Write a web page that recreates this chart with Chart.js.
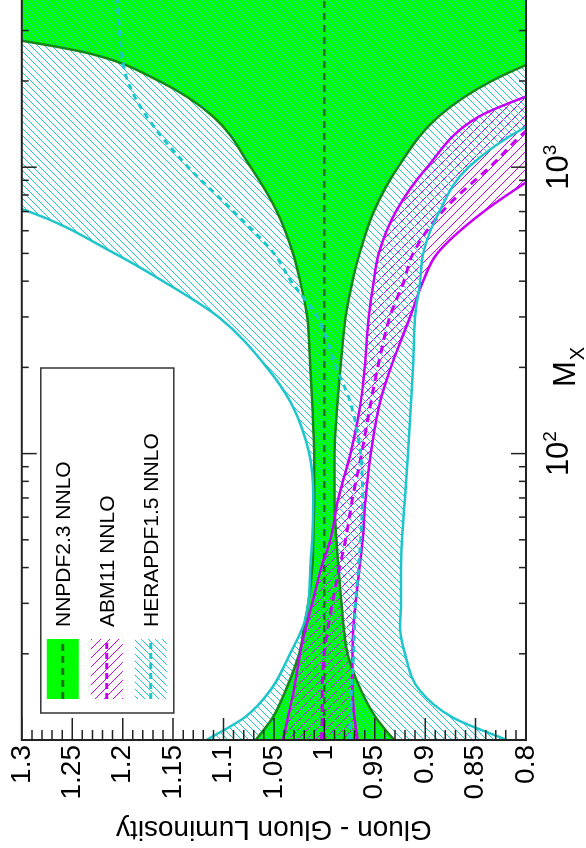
<!DOCTYPE html>
<html>
<head>
<meta charset="utf-8">
<script src="https://cdn.jsdelivr.net/npm/chart.js@4.4.1/dist/chart.umd.min.js"></script>
<style>
html, body { margin: 0; padding: 0; background: #fff; overflow: hidden; }
#wrap { position: relative; width: 586px; height: 848px; overflow: hidden; }
#lumi { position: absolute; left: 0; top: 0; transform-origin: 0 0; transform: translate(0px, 848px) rotate(-90deg); }
</style>
</head>
<body>
<div id="wrap"><canvas id="lumi" width="900" height="586"></canvas></div>
<script>
// invariant mass grid (GeV)
const massValues = [10, 12, 15, 20, 25, 30, 40, 50, 70, 100, 150, 200, 300, 400, 500, 700, 1000, 1500, 2000, 2500, 3000, 4000, 5000];

// ratios to NNPDF2.3 central
const nnpdfCentral = [1, 1, 1, 1, 1, 1, 1, 1, 1, 1, 1, 1, 1, 1, 1, 1, 1, 1, 1, 1, 1, 1, 1];
const nnpdfUpper = [1.068, 1.051, 1.038, 1.025, 1.020, 1.016, 1.012, 1.011, 1.010, 1.010, 1.012, 1.014, 1.017, 1.024, 1.031, 1.047, 1.073, 1.110, 1.164, 1.234, 1.36, 1.55, 1.75];
const nnpdfLower = [0.931, 0.949, 0.964, 0.977, 0.981, 0.983, 0.986, 0.988, 0.990, 0.990, 0.987, 0.984, 0.979, 0.972, 0.965, 0.951, 0.927, 0.887, 0.834, 0.77, 0.70, 0.55, 0.40];

const abmCentral = [1.003, 1.002, 1.002, 1.000, 0.996, 0.992, 0.985, 0.979, 0.972, 0.963, 0.954, 0.947, 0.935, 0.921, 0.912, 0.883, 0.836, 0.78, 0.70, 0.64, 0.58, 0.49, 0.40];
const abmUpper = [1.041, 1.036, 1.030, 1.024, 1.018, 1.012, 1.003, 0.994, 0.986, 0.974, 0.964, 0.960, 0.956, 0.951, 0.946, 0.929, 0.898, 0.847, 0.76, 0.70, 0.64, 0.55, 0.46];
const abmLower = [0.967, 0.970, 0.972, 0.972, 0.971, 0.969, 0.965, 0.962, 0.959, 0.954, 0.945, 0.934, 0.915, 0.902, 0.888, 0.842, 0.777, 0.70, 0.63, 0.57, 0.52, 0.43, 0.35];

const heraCentral = [0.975, 0.974, 0.973, 0.971, 0.970, 0.969, 0.966, 0.964, 0.962, 0.964, 0.974, 0.988, 1.007, 1.033, 1.050, 1.090, 1.135, 1.176, 1.195, 1.201, 1.203, 1.206, 1.208];
const heraUpper = [1.117, 1.079, 1.053, 1.034, 1.021, 1.016, 1.014, 1.012, 1.011, 1.015, 1.033, 1.057, 1.105, 1.160, 1.208, 1.293, 1.45, 1.6, 1.7, 1.8, 1.9, 2.0, 2.1];
const heraLower = [0.819, 0.873, 0.906, 0.920, 0.925, 0.924, 0.924, 0.923, 0.920, 0.917, 0.914, 0.912, 0.910, 0.905, 0.902, 0.886, 0.857, 0.78, 0.68, 0.60, 0.55, 0.45, 0.40];

const yTickValues = [0.8, 0.85, 0.9, 0.95, 1, 1.05, 1.1, 1.15, 1.2, 1.25, 1.3];
const yTickLabels = ['0.8', '0.85', '0.9', '0.95', '1', '1.05', '1.1', '1.15', '1.2', '1.25', '1.3'];
const xTickValues = [100, 1000];
const xTickExponents = ['2', '3'];
const legendNames = ['NNPDF2.3 NNLO', 'ABM11 NNLO', 'HERAPDF1.5 NNLO'];

const FONT = '"Liberation Sans", Arial, Helvetica, sans-serif';
const GREEN = '#00ff00';
const DARKGREEN = '#16861a';
const MAGENTA = '#c800f5';
const CYAN = '#1ec6cc';

const canvas = document.getElementById('lumi');
const ctx = canvas.getContext('2d');

// diagonal hatch pattern, dir 1 = '/', -1 = '\'
function hatch(color, size, dir) {
    const c = document.createElement('canvas');
    c.width = size;
    c.height = size;
    const g = c.getContext('2d');
    g.strokeStyle = color;
    g.lineWidth = 1;
    g.beginPath();
    if (dir > 0) {
        g.moveTo(-1, size + 1); g.lineTo(size + 1, -1);
        g.moveTo(-1, 1); g.lineTo(1, -1);
        g.moveTo(size - 1, size + 1); g.lineTo(size + 1, size - 1);
    } else {
        g.moveTo(-1, -1); g.lineTo(size + 1, size + 1);
        g.moveTo(size - 1, -1); g.lineTo(size + 1, 1);
        g.moveTo(-1, size - 1); g.lineTo(1, size + 1);
    }
    g.stroke();
    return ctx.createPattern(c, 'repeat');
}

const cyanHatch = hatch(CYAN, 7, 1);
const magentaHatch = hatch(MAGENTA, 9, -1);

function pts(arr) {
    return massValues.map((m, i) => ({ x: m, y: arr[i] }));
}

function edge(arr, color, width, fill, bg) {
    return {
        data: pts(arr),
        borderColor: color,
        borderWidth: width,
        backgroundColor: bg || 'transparent',
        fill: fill,
        pointRadius: 0,
        cubicInterpolationMode: 'monotone'
    };
}

function central(arr, color, width, dash) {
    return {
        data: pts(arr),
        borderColor: color,
        borderWidth: width,
        borderDash: dash,
        fill: false,
        pointRadius: 0,
        cubicInterpolationMode: 'monotone'
    };
}

// index 0 is drawn last (on top)
const datasets = [
    central(heraCentral, CYAN, 3, [6, 5]),
    edge(heraUpper, CYAN, 2.5, '+1', cyanHatch),
    edge(heraLower, CYAN, 2.5, false),
    central(abmCentral, MAGENTA, 3, [8, 6]),
    edge(abmUpper, MAGENTA, 2.5, '+1', magentaHatch),
    edge(abmLower, MAGENTA, 2.5, false),
    central(nnpdfCentral, '#1d6e1d', 2.5, [7, 5]),
    edge(nnpdfUpper, DARKGREEN, 2.5, '+1', GREEN),
    edge(nnpdfLower, DARKGREEN, 2.5, false)
];

// frame, inward ticks, x labels and the legend
const decorations = {
    id: 'decorations',
    afterDraw(chart) {
        const { ctx, chartArea: a, scales: { x, y } } = chart;
        ctx.save();
        ctx.strokeStyle = '#222';
        ctx.lineWidth = 1.5;
        ctx.beginPath();
        for (let k = 80; k <= 130; k++) {
            const py = y.getPixelForValue(k / 100);
            const len = k % 5 === 0 ? 22 : 10;
            ctx.moveTo(a.left, py); ctx.lineTo(a.left + len, py);
            ctx.moveTo(a.right, py); ctx.lineTo(a.right - len, py);
        }
        [10, 100, 1000].forEach(d => {
            for (let m = 1; m <= 9; m++) {
                const v = d * m;
                if (v > x.max) break;
                const px = x.getPixelForValue(v);
                const len = m === 1 ? 15 : 7;
                ctx.moveTo(px, a.top); ctx.lineTo(px, a.top + len);
                ctx.moveTo(px, a.bottom); ctx.lineTo(px, a.bottom - len);
            }
        });
        ctx.stroke();
        ctx.lineWidth = 2;
        ctx.strokeRect(a.left, a.top, a.right - a.left, a.bottom - a.top);

        // x tick labels 10^n
        ctx.fillStyle = '#000';
        ctx.textBaseline = 'alphabetic';
        ctx.textAlign = 'left';
        xTickValues.forEach((v, i) => {
            const px = x.getPixelForValue(v);
            ctx.font = '31px ' + FONT;
            const wb = ctx.measureText('10').width;
            ctx.font = '19px ' + FONT;
            const ws = ctx.measureText(xTickExponents[i]).width;
            const start = px - (wb + ws) / 2;
            ctx.font = '31px ' + FONT;
            ctx.fillText('10', start, a.bottom + 42);
            ctx.font = '19px ' + FONT;
            ctx.fillText(xTickExponents[i], start + wb, a.bottom + 30);
        });

        // axis title M_X
        ctx.font = '31px ' + FONT;
        ctx.fillText('M', 461, a.bottom + 49);
        const wm = ctx.measureText('M').width;
        ctx.font = '20px ' + FONT;
        ctx.fillText('X', 461 + wm + 1, a.bottom + 58);

        // legend
        const lx = a.left + 27, ly = a.top + 19;
        ctx.fillStyle = '#fff';
        ctx.fillRect(lx, ly, 345, 133);
        ctx.strokeStyle = '#333';
        ctx.lineWidth = 1.5;
        ctx.strokeRect(lx, ly, 345, 133);
        const fills = [GREEN, magentaHatch, cyanHatch];
        const lines = ['#1d6e1d', MAGENTA, CYAN];
        legendNames.forEach((name, i) => {
            const cy = ly + 22 + i * 44;
            ctx.fillStyle = fills[i];
            ctx.fillRect(lx + 14, cy - 16, 60, 32);
            ctx.strokeStyle = lines[i];
            ctx.lineWidth = 3;
            ctx.setLineDash(i === 0 ? [7, 5] : [6, 4]);
            ctx.beginPath();
            ctx.moveTo(lx + 14, cy); ctx.lineTo(lx + 74, cy);
            ctx.stroke();
            ctx.setLineDash([]);
            ctx.fillStyle = '#000';
            ctx.font = '21px ' + FONT;
            ctx.textBaseline = 'middle';
            ctx.fillText(name, lx + 86, cy + 1);
        });
        ctx.restore();
    }
};

new Chart(canvas, {
    type: 'line',
    data: { datasets: datasets },
    options: {
        responsive: false,
        animation: false,
        events: [],
        layout: { padding: { top: 20, right: 19, left: 0, bottom: 0 } },
        plugins: {
            legend: { display: false },
            tooltip: { enabled: false },
            filler: { drawTime: 'beforeDatasetsDraw' }
        },
        scales: {
            x: {
                type: 'logarithmic',
                min: 10,
                max: 5000,
                grid: { display: false, drawTicks: false },
                border: { display: false },
                ticks: { display: false },
                afterFit: s => { s.height = 60; }
            },
            y: {
                min: 0.8,
                max: 1.3,
                afterBuildTicks: s => { s.ticks = yTickValues.map(v => ({ value: v })); },
                afterFit: s => { s.width = 108; },
                grid: { display: false, drawTicks: false },
                border: { display: false },
                ticks: {
                    color: '#000',
                    padding: 5,
                    font: { family: FONT, size: 28 },
                    callback: (v, i) => yTickLabels[i]
                },
                title: {
                    display: true,
                    text: 'Gluon - Gluon Luminosity',
                    color: '#000',
                    font: { family: FONT, size: 28 },
                    padding: { top: 2, bottom: 0 }
                }
            }
        }
    },
    plugins: [decorations]
});
</script>
</body>
</html>
